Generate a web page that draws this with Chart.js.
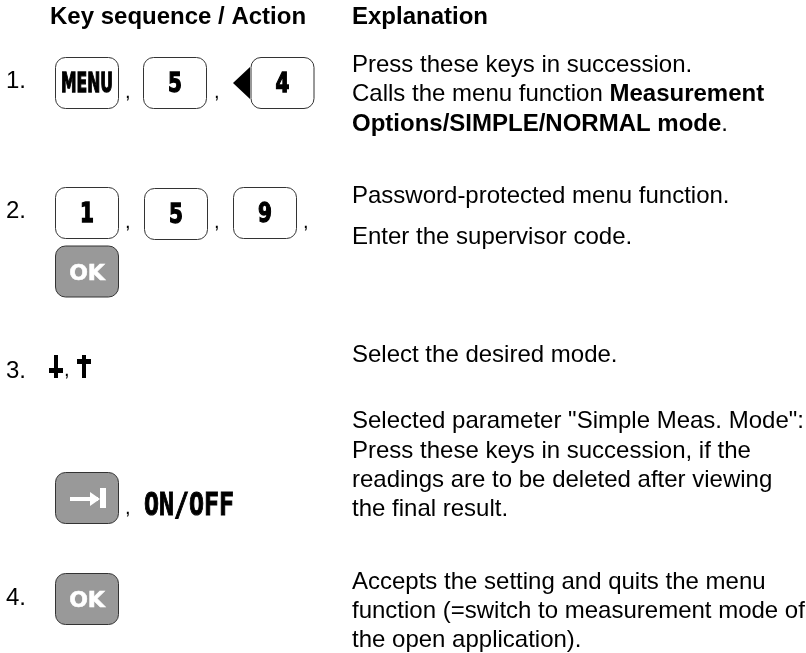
<!DOCTYPE html>
<html>
<head>
<meta charset="utf-8">
<style>
    html, body { margin: 0; padding: 0; background: #fff; }
    canvas { display: block; }
</style>
<script src="https://cdn.jsdelivr.net/npm/chart.js@4"></script>
</head>
<body>
<canvas id="keyChart" width="806" height="653"></canvas>
<script>
// --- page content ---
const headers = ['Key sequence / Action', 'Explanation'];
const headerX = [50, 352];
const headerY = [24, 24];

const stepLabels = ['1.', '2.', '3.', '4.'];
const stepY = [88, 218, 378, 605];

// key caps: label, centre x, centre y
const keyLabels = ['MENU', '5', '4', '1', '5', '9', 'OK', '', 'OK'];
const keyX = [87, 175, 282.5, 87, 176, 265, 87, 87, 87];
const keyY = [83, 83, 83, 213, 214, 213, 271.5, 498, 599];
const keyGrey = [false, false, false, false, false, false, true, true, true];

const commaX = [125, 214, 125, 214, 303, 64, 125];
const commaY = [98, 98, 228, 228, 228, 376, 514];

const softKey = 'ON/OFF';

// explanation lines: [text, bold] runs
const explanationLines = [
    [['Press these keys in succession.', false]],
    [['Calls the menu function ', false], ['Measurement', true]],
    [['Options/SIMPLE/NORMAL mode', true], ['.', false]],
    [['Password-protected menu function.', false]],
    [['Enter the supervisor code.', false]],
    [['Select the desired mode.', false]],
    [['Selected parameter "Simple Meas. Mode":', false]],
    [['Press these keys in succession, if the', false]],
    [['readings are to be deleted after viewing', false]],
    [['the final result.', false]],
    [['Accepts the setting and quits the menu', false]],
    [['function (=switch to measurement mode of', false]],
    [['the open application).', false]]
];
const explanationY = [72, 101, 131, 203, 244, 362, 428, 458, 487, 516, 589, 618, 647];

const textFont = '"Liberation Sans", Arial, sans-serif';
const textSize = 24;
const keyW = 63, keyH = 51;

function roundBox(ctx, x, y, w, h, r) {
    ctx.beginPath();
    ctx.roundRect(x, y, w, h, r);
}

// heavy stretched label, the key caps use a bitmap-like face
function keyText(ctx, text, x, y, stretch, weight, maxW) {
    ctx.save();
    ctx.translate(x, y);
    ctx.scale(1, stretch);
    ctx.lineWidth = weight;
    ctx.fillText(text, 0, 0, maxW);
    ctx.strokeText(text, 0, 0, maxW);
    ctx.restore();
}

const pagePlugin = {
    id: 'pagePlugin',
    afterDatasetsDraw(chart) {
        const ctx = chart.ctx;
        const sx = chart.scales.x, sy = chart.scales.y;
        ctx.save();
        ctx.textBaseline = 'alphabetic';
        ctx.textAlign = 'left';
        ctx.fillStyle = '#000';

        // headers
        ctx.font = 'bold ' + textSize + 'px ' + textFont;
        headers.forEach((h, i) => ctx.fillText(h, sx.getPixelForValue(headerX[i]), sy.getPixelForValue(headerY[i])));

        // step numbers
        ctx.font = textSize + 'px ' + textFont;
        stepLabels.forEach((s, i) => ctx.fillText(s, 6, sy.getPixelForValue(stepY[i])));

        // explanation text
        explanationLines.forEach((runs, i) => {
            let x = sx.getPixelForValue(352);
            const y = sy.getPixelForValue(explanationY[i]);
            runs.forEach(r => {
                ctx.font = (r[1] ? 'bold ' : '') + textSize + 'px ' + textFont;
                ctx.fillText(r[0], x, y);
                x += ctx.measureText(r[0]).width;
            });
        });

        // commas
        ctx.font = '20px ' + textFont;
        commaX.forEach((x, i) => ctx.fillText(',', sx.getPixelForValue(x), sy.getPixelForValue(commaY[i])));

        // key caps, placed on the points of the dataset
        chart.getDatasetMeta(0).data.forEach((pt, i) => {
            const x = pt.x - keyW / 2, y = pt.y - keyH / 2;
            roundBox(ctx, x, y, keyW, keyH, 10);
            ctx.fillStyle = keyGrey[i] ? '#999' : '#fff';
            ctx.fill();
            ctx.lineWidth = 1;
            ctx.strokeStyle = '#333';
            ctx.stroke();

            ctx.textAlign = 'center';
            ctx.fillStyle = keyGrey[i] ? '#fff' : '#000';
            ctx.strokeStyle = ctx.fillStyle;
            if (keyLabels[i] === 'MENU') {
                ctx.font = 'bold 20px "DejaVu Sans", sans-serif';
                keyText(ctx, 'MENU', pt.x, pt.y + 9, 1.3, 1, 52);
            } else if (keyGrey[i] && keyLabels[i]) {
                ctx.font = 'bold 22px "DejaVu Sans", sans-serif';
                keyText(ctx, keyLabels[i], pt.x, pt.y + 8, 1, 0.6);
            } else if (keyLabels[i]) {
                ctx.font = 'bold 20px "DejaVu Sans", sans-serif';
                keyText(ctx, keyLabels[i], pt.x, pt.y + 9, 1.3, 1);
            }
            ctx.textAlign = 'left';
        });

        // return arrow on the grey key
        const arrow = chart.getDatasetMeta(0).data[7];
        ctx.fillStyle = '#fff';
        ctx.fillRect(arrow.x - 17, arrow.y - 1, 28, 4);
        ctx.fillRect(arrow.x + 13, arrow.y - 10, 6, 20);
        ctx.beginPath();
        ctx.moveTo(arrow.x + 13, arrow.y + 1);
        ctx.lineTo(arrow.x + 3, arrow.y - 6);
        ctx.lineTo(arrow.x + 3, arrow.y + 8);
        ctx.closePath();
        ctx.fill();

        // triangle in front of key 4
        const four = chart.getDatasetMeta(0).data[2];
        ctx.fillStyle = '#000';
        ctx.beginPath();
        ctx.moveTo(four.x - keyW / 2 - 1, four.y - 16);
        ctx.lineTo(four.x - keyW / 2 - 18, four.y);
        ctx.lineTo(four.x - keyW / 2 - 1, four.y + 16);
        ctx.closePath();
        ctx.fill();

        // down and up arrows of step 3
        ctx.fillRect(54, 355, 4, 23);
        ctx.fillRect(49, 368, 14, 5);
        ctx.fillRect(82, 355, 4, 23);
        ctx.fillRect(77, 359, 14, 5);

        // soft key text
        ctx.strokeStyle = '#000';
        ctx.font = 'bold 25px "DejaVu Sans Mono", monospace';
        keyText(ctx, softKey, 144, 515, 1.3, 0.8, 90);

        ctx.restore();
    }
};

new Chart(document.getElementById('keyChart').getContext('2d'), {
    type: 'scatter',
    data: {
        datasets: [{
            label: 'Keys',
            data: keyX.map((x, i) => ({ x: x, y: keyY[i] })),
            pointRadius: 0
        }]
    },
    options: {
        responsive: false,
        animation: false,
        layout: { padding: 0 },
        plugins: {
            legend: { display: false },
            tooltip: { enabled: false }
        },
        scales: {
            x: { type: 'linear', min: 0, max: 806, display: false },
            y: { type: 'linear', min: 0, max: 653, reverse: true, display: false }
        }
    },
    plugins: [pagePlugin]
});
</script>
</body>
</html>
